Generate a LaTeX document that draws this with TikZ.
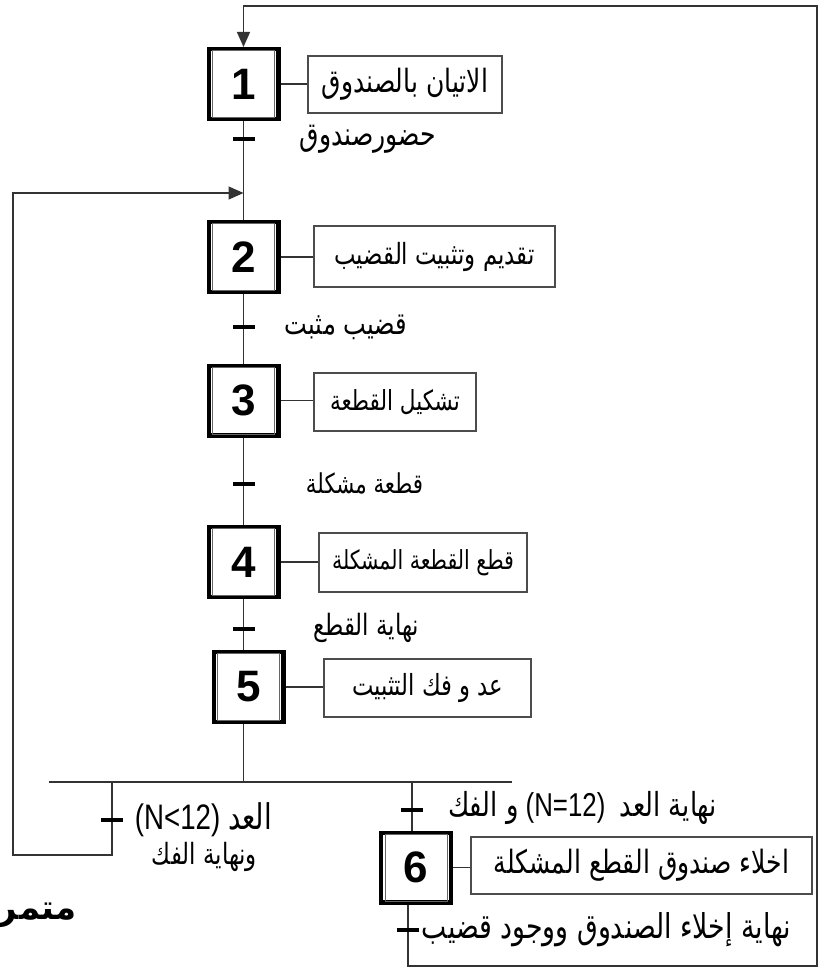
\documentclass[tikz,border=0pt]{standalone}
\usepackage{graphicx}
\usepackage{fontspec}
\setmainfont{Liberation Sans}
\newfontfamily\ar[Script=Arabic]{DejaVu Sans}
\TeXXeTstate=1
\usetikzlibrary{arrows.meta}
\newcommand\fitw[2]{\scalebox{1}[1.28]{\resizebox{#1pt}{!}{#2}}}
\newcommand\AR[1]{{\ar\beginR #1\endR}}
\begin{document}
\begin{tikzpicture}[x=1pt,y=-1pt,
  ln/.style={draw=black!80, line width=1.3pt},
  stepbox/.style={draw=black, line width=4.2pt, minimum width=69.8pt, minimum height=69.8pt, inner sep=0pt, font=\fontsize{44}{44}\selectfont\bfseries},
  actbox/.style={draw=black!70, line width=1.3pt, inner sep=0pt},
  tbar/.style={fill=black, minimum width=22pt, minimum height=3.6pt, inner sep=0pt},
  lbl/.style={inner sep=0pt},
  tip/.style={-{Triangle[length=15pt,width=13pt]}}
]
\useasboundingbox (0,0) rectangle (826,974);
\fill[white] (0,0) rectangle (826,974);
% steps
\node[stepbox] (S1) at (243.5,84) {1};
\node[stepbox] (S2) at (243.5,257) {2};
\node[stepbox] (S3) at (243.5,400.5) {3};
\node[stepbox] (S4) at (243.5,562) {4};
\node[stepbox] (S5) at (248.5,687) {5};
\node[stepbox] (S6) at (416,867.5) {6};
\foreach \s in {S1,S2,S3,S4,S5,S6}
  \draw[black!60, line width=0.9pt] ([shift={(6,3.5)}]\s.north west) rectangle ([shift={(-6,-3.5)}]\s.south east);
% transitions
\node[tbar] (T1) at (243.5,139) {};
\node[tbar] (T2) at (243.5,327) {};
\node[tbar] (T3) at (243.5,484) {};
\node[tbar] (T4) at (243.5,629) {};
\node[tbar] (T5) at (112,820) {};
\node[tbar] (T6) at (412,810) {};
\node[tbar] (T7) at (408,930) {};
% coordinates
\coordinate (DL) at (49,782);
\coordinate (DR) at (512,782);
\coordinate (L1) at (13,855);
\coordinate (L2) at (13,193);
\coordinate (B1) at (408,966);
\coordinate (B2) at (817,966);
\coordinate (B3) at (817,6);
% actions
\node[actbox, minimum width=194pt, minimum height=57pt] (A1) at (405,84.5) {\fitw{166}{\AR{الاتيان بالصندوق}}};
\node[actbox, minimum width=241pt, minimum height=61pt] (A2) at (434.5,256.5) {\fitw{200}{\AR{تقديم وتثبيت  القضيب}}};
\node[actbox, minimum width=162pt, minimum height=58pt] (A3) at (395,402) {\fitw{130}{\AR{تشكيل القطعة}}};
\node[actbox, minimum width=208pt, minimum height=59pt] (A4) at (423,562.5) {\fitw{182}{\AR{قطع القطعة المشكلة}}};
\node[actbox, minimum width=207pt, minimum height=58pt] (A5) at (427.5,688) {\fitw{151}{\AR{عد و فك التثبيت}}};
\node[actbox, minimum width=341pt, minimum height=57pt] (A6) at (641.5,865.5) {\fitw{295}{\AR{اخلاء صندوق القطع المشكلة}}};
% transition labels
\node[lbl] (R1) at (368,139) {\fitw{136}{\AR{حضورصندوق}}};
\node[lbl] (R2) at (346,327) {\fitw{122}{\AR{قضيب مثبت}}};
\node[lbl] (R3) at (364.5,483) {\fitw{117}{\AR{قطعة مشكلة}}};
\node[lbl] (R4) at (366,628) {\fitw{106}{\AR{نهاية القطع}}};
\node[lbl] (R5a) at (203.5,820) {\fitw{137}{(N<12) \AR{العد}}};
\node[lbl] (R5b) at (204.5,857) {\fitw{105}{\AR{ونهاية الفك}}};
\node[lbl] (R6) at (582.5,808) {\fitw{269}{\AR{و الفك} (N=12)\ \ \AR{نهاية العد}}};
\node[lbl] (R7) at (606.5,930) {\fitw{369}{\AR{نهاية إخلاء الصندوق ووجود قضيب}}};
\node[lbl, anchor=east] (ST) at (77,915) {\fontsize{34}{34}\selectfont\ar\bfseries\beginR متمرن\endR};
% links
\draw[ln] (S1.south) -- (T1) -- (S2.north);
\draw[ln] (S2.south) -- (T2) -- (S3.north);
\draw[ln] (S3.south) -- (T3) -- (S4.north);
\draw[ln] (S4.south) -- (T4) -- (T4 |- S5.north);
\draw[ln] (T4 |- S5.south) -- (T4 |- DL);
\draw[ln] (DL) -- (DR);
\draw[ln,tip] (T5 |- DL) -- (T5) -- (T5 |- L1) -- (L1) -- (L2) -- (L2 -| T1);
\draw[ln] (T6 |- DL) -- (T6) -- (T6 |- S6.north);
\draw[ln,tip] (T7 |- S6.south) -- (T7) -- (B1) -- (B2) -- (B3) -- (B3 -| S1.north) -- (S1.north);
\foreach \s in {1,...,6}
  \draw[ln] (S\s.east) -- (S\s.east -| A\s.west);
% redraw bars on top
\foreach \t in {T1,T2,T3,T4,T5,T6,T7}
  \fill[black] ([xshift=-11pt,yshift=-1.8pt]\t.center) rectangle ([xshift=11pt,yshift=1.8pt]\t.center);
\end{tikzpicture}
\end{document}
